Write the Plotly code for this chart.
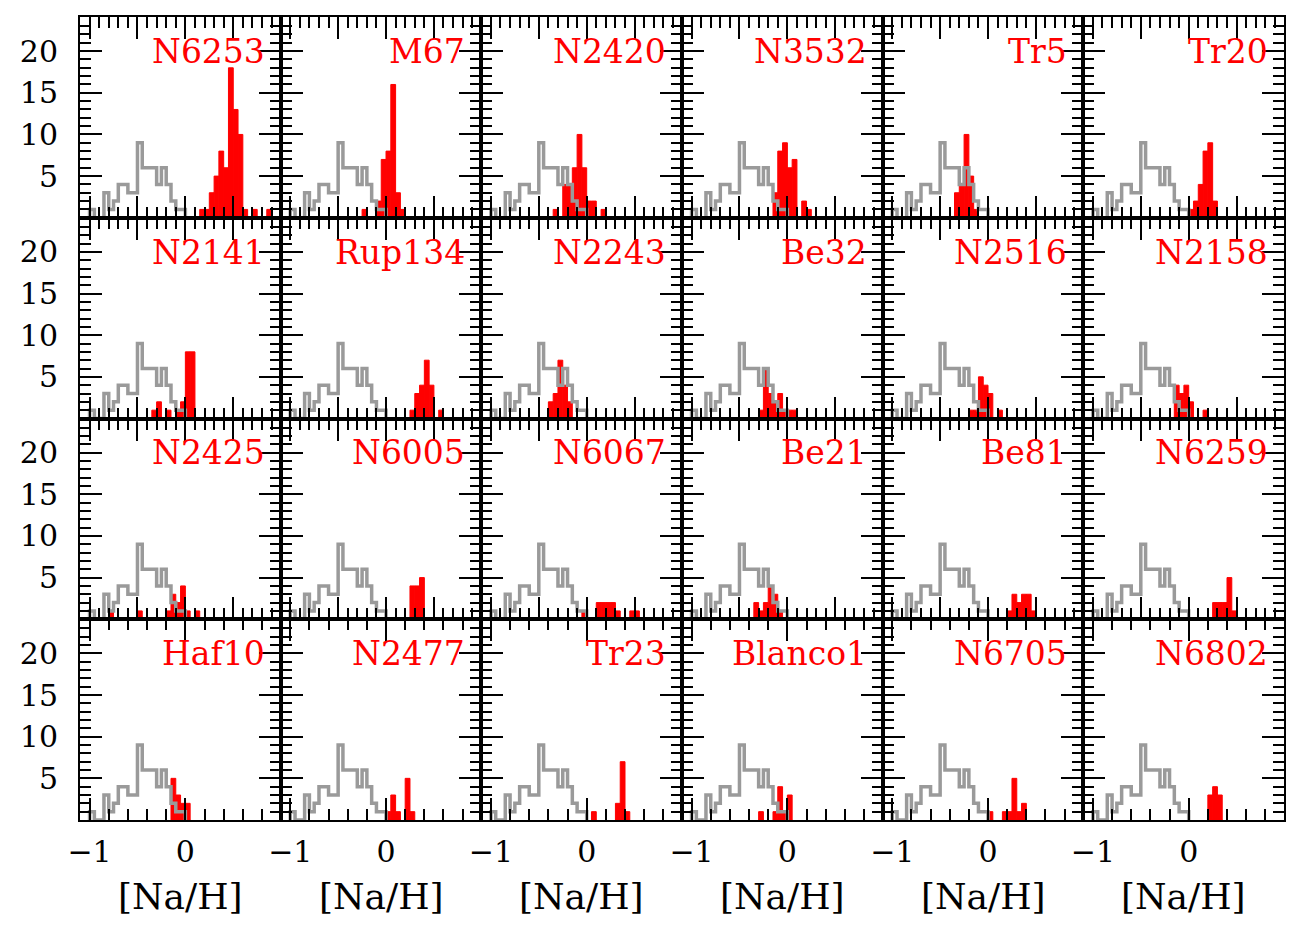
import plotly.graph_objects as go
from plotly.subplots import make_subplots

BIN = 0.05

# comparison sample (grey step histogram, same in every panel)
FIELD_EDGES = [-1.00, -0.95, -0.90, -0.85, -0.80, -0.75, -0.70, -0.65, -0.60, -0.55,
               -0.50, -0.45, -0.40, -0.35, -0.30, -0.25, -0.20, -0.15, -0.10, -0.05, 0.00]
FIELD_COUNTS = [1, 0, 0, 3, 1, 2, 4, 4, 3, 3, 9, 6, 6, 6, 4, 6, 4, 2, 1, 1]

# cluster histograms: (bin left edge in [Na/H], number of stars)
N6253 = [(0.15, 1), (0.20, 1), (0.25, 3), (0.30, 5), (0.35, 8), (0.40, 6), (0.45, 18),
         (0.50, 13), (0.55, 10), (0.60, 1), (0.70, 1), (0.85, 1)]
M67 = [(-0.25, 1), (-0.10, 2), (-0.05, 7), (0.00, 8), (0.05, 16), (0.10, 3), (0.15, 1)]
N2420 = [(-0.35, 1), (-0.25, 4), (-0.20, 4), (-0.15, 6), (-0.10, 10), (-0.05, 6),
         (0.00, 2), (0.05, 2), (0.15, 1)]
N3532 = [(-0.15, 3), (-0.10, 8), (-0.05, 9), (0.00, 6), (0.05, 7), (0.15, 2), (0.20, 1)]
TR5 = [(-0.35, 3), (-0.30, 4), (-0.25, 10), (-0.20, 5), (-0.15, 1)]
TR20 = [(0.00, 1), (0.05, 2), (0.10, 4), (0.15, 8), (0.20, 9), (0.25, 2)]

N2141 = [(-0.35, 1), (-0.30, 2), (-0.20, 1), (-0.10, 1), (-0.05, 2), (0.00, 8), (0.05, 8)]
RUP134 = [(0.25, 1), (0.30, 3), (0.35, 4), (0.40, 7), (0.45, 4), (0.55, 1)]
N2243 = [(-0.40, 2), (-0.35, 3), (-0.30, 7), (-0.25, 4), (-0.20, 2)]
BE32 = [(-0.30, 1), (-0.25, 6), (-0.20, 3), (-0.15, 2), (-0.10, 3), (-0.05, 1),
        (0.00, 1), (0.05, 1)]
N2516 = [(-0.20, 1), (-0.15, 1), (-0.10, 5), (-0.05, 4), (0.00, 3), (0.10, 1)]
N2158 = [(-0.15, 4), (-0.10, 3), (-0.05, 4), (0.00, 2), (0.15, 1)]

N2425 = [(-0.80, 1), (-0.50, 1), (-0.20, 1), (-0.15, 3), (-0.10, 2), (-0.05, 4),
         (0.00, 1), (0.10, 1)]
N6005 = [(0.25, 4), (0.30, 4), (0.35, 5)]
N6067 = [(-0.05, 1), (0.10, 2), (0.15, 2), (0.20, 2), (0.25, 2), (0.30, 1), (0.45, 1),
         (0.50, 1)]
BE21 = [(-0.35, 2), (-0.30, 1), (-0.25, 2), (-0.20, 4), (-0.15, 3), (-0.10, 1)]
BE81 = [(0.20, 1), (0.25, 3), (0.30, 2), (0.35, 3), (0.40, 3), (0.45, 1)]
N6259 = [(0.25, 2), (0.30, 2), (0.35, 2), (0.40, 5), (0.45, 1)]

HAF10 = [(-0.15, 5), (-0.10, 3), (-0.05, 2), (0.00, 2)]
N2477 = [(0.00, 1), (0.05, 3), (0.10, 1), (0.20, 5), (0.25, 1)]
TR23 = [(0.05, 1), (0.30, 2), (0.35, 7), (0.40, 1)]
BLANCO1 = [(-0.30, 1), (-0.15, 1), (-0.10, 4), (-0.05, 1), (0.00, 3)]
N6705 = [(0.00, 1), (0.15, 1), (0.20, 1), (0.25, 5), (0.30, 1), (0.35, 2)]
N6802 = [(0.20, 3), (0.25, 4), (0.30, 3)]

CLUSTERS = [
    ("N6253", N6253), ("M67", M67), ("N2420", N2420), ("N3532", N3532), ("Tr5", TR5), ("Tr20", TR20),
    ("N2141", N2141), ("Rup134", RUP134), ("N2243", N2243), ("Be32", BE32), ("N2516", N2516), ("N2158", N2158),
    ("N2425", N2425), ("N6005", N6005), ("N6067", N6067), ("Be21", BE21), ("Be81", BE81), ("N6259", N6259),
    ("Haf10", HAF10), ("N2477", N2477), ("Tr23", TR23), ("Blanco1", BLANCO1), ("N6705", N6705), ("N6802", N6802),
]

Y_TICKS = [0, 5, 10, 15, 20]
Y_TICKTEXT = ["", "5", "10", "15", "20"]
X_RANGE = [-1.1, 0.995]
Y_RANGE = [0, 24.1]

NROWS, NCOLS = 4, 6
FONT = "DejaVu Serif"
GREY = "#9a9a9a"
RED = "#ff0000"

fig = make_subplots(rows=NROWS, cols=NCOLS, horizontal_spacing=0, vertical_spacing=0)

# grey step line through the field histogram
step_x = [FIELD_EDGES[0]] + FIELD_EDGES
step_y = [0] + FIELD_COUNTS + [0]

for i, (name, hist) in enumerate(CLUSTERS):
    row, col = i // NCOLS + 1, i % NCOLS + 1
    n = i + 1
    fig.add_trace(
        go.Bar(
            x=[b + BIN / 2 for b, _ in hist],
            y=[c for _, c in hist],
            width=BIN,
            marker={"color": RED, "line": {"width": 1, "color": RED}},
        ),
        row=row,
        col=col,
    )
    fig.add_trace(
        go.Scatter(
            x=step_x,
            y=step_y,
            mode="lines",
            line={"color": GREY, "width": 3.5, "shape": "hv"},
        ),
        row=row,
        col=col,
    )
    xs = "" if n == 1 else str(n)
    fig.add_annotation(
        text=name,
        xref=f"x{xs} domain",
        yref=f"y{xs} domain",
        x=0.93,
        y=0.829,
        xanchor="right",
        yanchor="middle",
        showarrow=False,
        font={"family": FONT, "size": 33, "color": RED},
    )

    bottom = row == NROWS
    fig.update_xaxes(
        range=X_RANGE,
        automargin=False,
        showgrid=False,
        zeroline=False,
        showline=True,
        linewidth=2,
        linecolor="black",
        mirror="ticks",
        ticks="inside",
        tickwidth=2,
        ticklen=22,
        tickcolor="black",
        tickmode="linear",
        tick0=0,
        dtick=1 if bottom else 0.5,
        minor={"ticks": "inside", "ticklen": 11, "tickwidth": 2, "tickcolor": "black",
               "dtick": 0.2 if bottom else 0.1, "tick0": 0},
        showticklabels=bottom,
        ticklabelstandoff=4,
        tickfont={"family": FONT, "size": 30, "color": "black"},
        row=row,
        col=col,
    )
    fig.update_yaxes(
        range=Y_RANGE,
        automargin=False,
        showgrid=False,
        zeroline=False,
        showline=True,
        linewidth=2,
        linecolor="black",
        mirror="ticks",
        ticks="inside",
        tickwidth=2,
        ticklen=22,
        tickcolor="black",
        tickmode="array",
        tickvals=Y_TICKS,
        ticktext=Y_TICKTEXT,
        minor={"ticks": "inside", "ticklen": 11, "tickwidth": 2, "tickcolor": "black",
               "dtick": 1, "tick0": 0},
        showticklabels=(col == 1),
        ticklabelstandoff=14,
        tickfont={"family": FONT, "size": 30, "color": "black"},
        row=row,
        col=col,
    )

# x-axis title under every column
for c in range(NCOLS):
    fig.add_annotation(
        text="[Na/H]",
        xref="paper",
        yref="paper",
        x=(c + 0.5) / NCOLS,
        y=-0.0955,
        xanchor="center",
        yanchor="middle",
        showarrow=False,
        font={"family": FONT, "size": 36, "color": "black"},
    )

# the page body adds 8 px around the figure
fig.update_layout(
    width=1294,
    height=921,
    margin={"l": 72, "r": 18, "t": 9, "b": 109},
    plot_bgcolor="white",
    paper_bgcolor="white",
    showlegend=False,
    barmode="overlay",
)

fig.write_html("out.html")
